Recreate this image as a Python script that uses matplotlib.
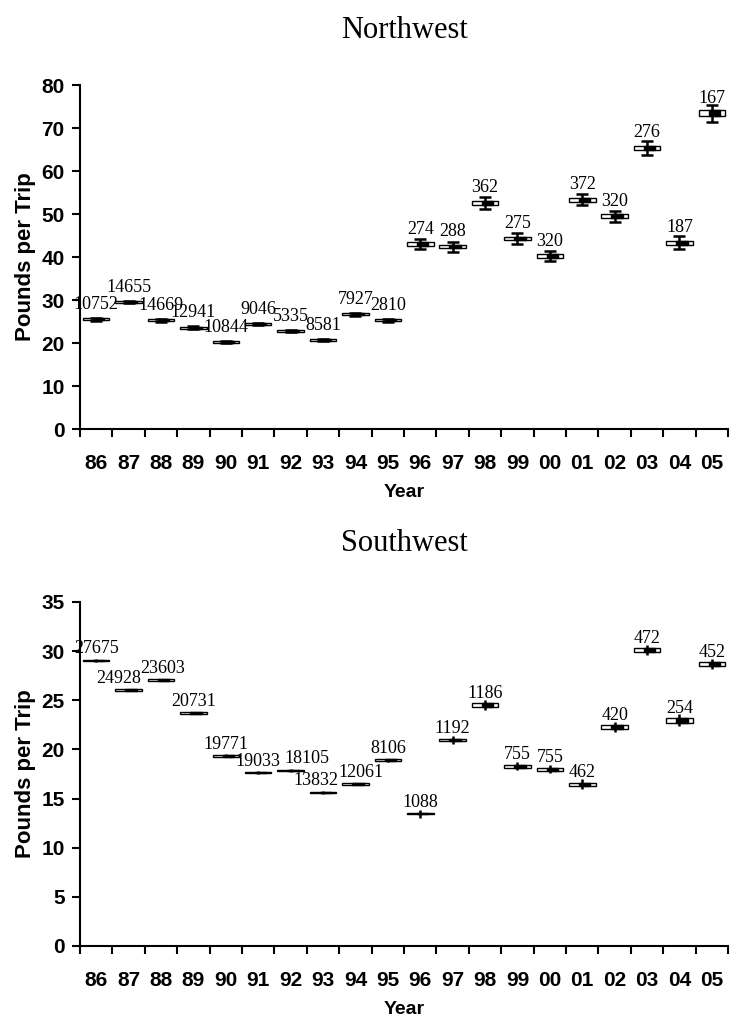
import matplotlib.pyplot as plt
from matplotlib.patches import Rectangle
from matplotlib.ticker import FixedLocator

years = ["86", "87", "88", "89", "90", "91", "92", "93", "94", "95",
         "96", "97", "98", "99", "00", "01", "02", "03", "04", "05"]

# Northwest: mean pounds per trip, error half-width, box height, number of trips
nw_mean = [25.5, 29.5, 25.3, 23.6, 20.2, 24.4, 22.8, 20.7, 26.7, 25.3,
           43.0, 42.4, 52.6, 44.3, 40.2, 53.3, 49.5, 65.4, 43.3, 73.4]
nw_err = [0.3, 0.3, 0.3, 0.3, 0.3, 0.3, 0.3, 0.3, 0.3, 0.3,
          1.1, 1.2, 1.4, 1.3, 1.2, 1.3, 1.3, 1.7, 1.5, 2.0]
nw_box = [0.45, 0.45, 0.45, 0.45, 0.45, 0.45, 0.45, 0.45, 0.45, 0.45,
          0.8, 0.8, 0.9, 0.8, 0.8, 0.9, 0.9, 1.0, 0.9, 1.4]
nw_n = ["10752", "14655", "14669", "12941", "10844", "9046", "5335", "8581", "7927", "2810",
        "274", "288", "362", "275", "320", "372", "320", "276", "187", "167"]

# Southwest
sw_mean = [29.06, 26.04, 27.06, 23.7, 19.33, 17.63, 17.87, 15.64, 16.48, 18.9,
           13.46, 20.99, 24.52, 18.28, 18.0, 16.45, 22.31, 30.11, 22.96, 28.69]
sw_err = [0.15, 0.15, 0.15, 0.15, 0.15, 0.15, 0.15, 0.15, 0.15, 0.15,
          0.4, 0.4, 0.5, 0.4, 0.4, 0.5, 0.5, 0.5, 0.6, 0.5]
sw_box = [0.15, 0.15, 0.15, 0.15, 0.15, 0.15, 0.15, 0.15, 0.15, 0.15,
          0.15, 0.2, 0.35, 0.3, 0.3, 0.3, 0.4, 0.35, 0.5, 0.4]
sw_n = ["27675", "24928", "23603", "20731", "19771", "19033", "18105", "13832", "12061", "8106",
        "1088", "1192", "1186", "755", "755", "462", "420", "472", "254", "452"]

# small hand nudges of a few count labels (points)
sw_nudge = {1: -7, 2: 1, 6: 12, 7: -5, 8: 4}

SERIF = "Liberation Serif"
SANS = "Liberation Sans"

fig = plt.figure(figsize=(7.3, 10.22), dpi=100)


def panel(rect, title, means, errs, boxes, counts, ymax, ystep, caps, txt_off, nudge, tpad):
    ax = fig.add_axes(rect)
    xs = list(range(1, len(years) + 1))
    for i, (x, m, e, h, n) in enumerate(zip(xs, means, errs, boxes, counts)):
        ax.add_patch(Rectangle((x - 0.41, m - h / 2), 0.82, h,
                               facecolor="white", edgecolor="black", lw=1.0, zorder=2))
        ax.add_patch(Rectangle((x - 0.1, m - h / 2), 0.35, h,
                               facecolor="black", edgecolor="black", lw=1.0, zorder=3))
        ax.errorbar(x, m, yerr=e, fmt="none", ecolor="black", elinewidth=1.8,
                    capsize=caps, capthick=1.8, zorder=4)
        ax.annotate(n, (x, m), xytext=(nudge.get(i, 0), txt_off),
                    textcoords="offset points", ha="center", va="baseline",
                    fontsize=13, family=SERIF, annotation_clip=False)

    ax.set_xlim(0.5, len(years) + 0.5)
    ax.set_ylim(0, ymax)
    ax.set_yticks(range(0, ymax + 1, ystep))
    ax.set_xticks(xs)
    ax.set_xticklabels(years)
    ax.xaxis.set_minor_locator(FixedLocator([i + 0.5 for i in range(0, len(years) + 1)]))
    ax.tick_params(axis="x", which="major", length=0, pad=18)
    ax.tick_params(axis="x", which="minor", length=6, width=1.5, direction="out")
    ax.tick_params(axis="y", length=6, width=1.5, direction="out", pad=5)
    for lab in ax.get_xticklabels() + ax.get_yticklabels():
        lab.set_fontweight("bold")
        lab.set_fontsize(15)
        lab.set_family(SANS)
    for s in ["top", "right"]:
        ax.spines[s].set_visible(False)
    for s in ["left", "bottom"]:
        ax.spines[s].set_linewidth(1.5)
    ax.set_ylabel("Pounds per Trip", fontsize=16, fontweight="bold", family=SANS, labelpad=4)
    ax.set_xlabel("Year", fontsize=14, fontweight="bold", family=SANS, labelpad=8)
    ax.set_title(title, fontsize=22, family=SERIF, pad=tpad)
    return ax


panel([0.1096, 0.5802, 0.8877, 0.3366], "Northwest", nw_mean, nw_err, nw_box, nw_n,
      80, 10, 4, 7.5, {}, 34)
panel([0.1096, 0.0744, 0.8877, 0.3366], "Southwest", sw_mean, sw_err, sw_box, sw_n,
      35, 5, 0, 5, sw_nudge, 37)

fig.savefig("out.png", dpi=100)
